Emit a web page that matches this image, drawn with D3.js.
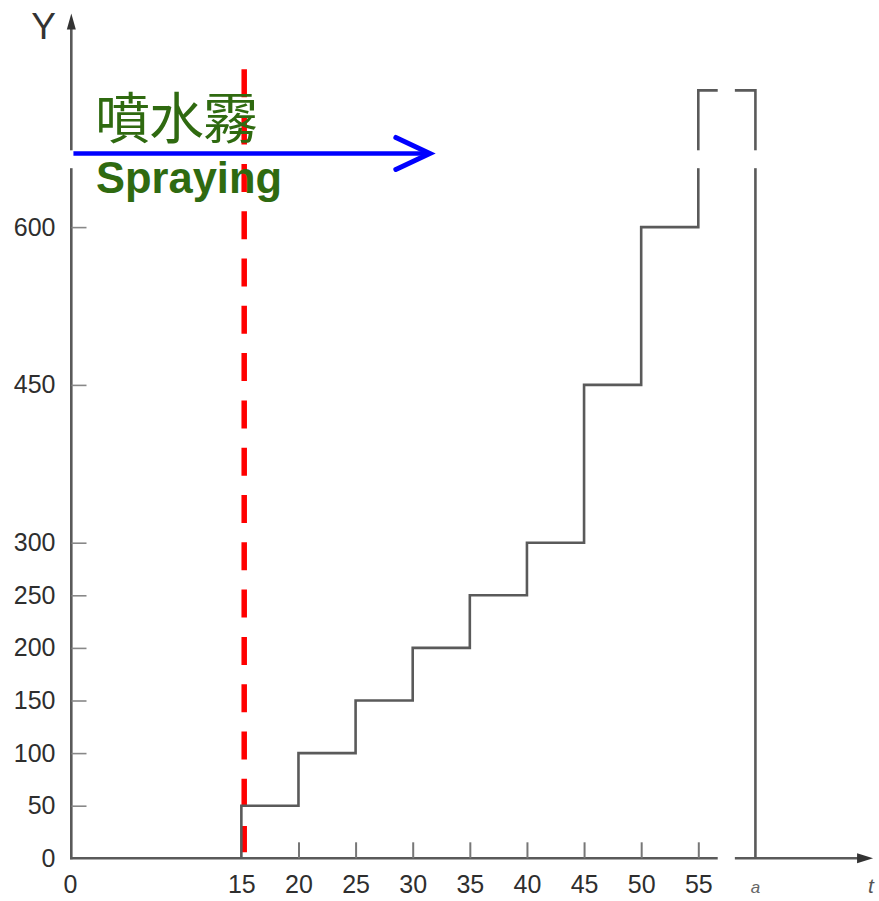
<!DOCTYPE html>
<html>
<head>
<meta charset="utf-8">
<script src="https://cdn.jsdelivr.net/npm/d3@7"></script>
<style>
  html, body { margin: 0; padding: 0; background: #fff; }
  svg { display: block; }
</style>
</head>
<body>
<script>
// ---- data ----
const stepT = [15, 15, 20, 25, 30, 35, 40, 45, 50, 55, 60];
const stepY = [0, 50, 100, 150, 200, 250, 300, 450, 600, 730, 0];
const xTickValues = [0, 15, 20, 25, 30, 35, 40, 45, 50, 55];
const xTickMarks = [20, 25, 30, 35, 40, 45, 50, 55];
const yTickValues = [0, 50, 100, 150, 200, 250, 300, 450, 600];
const aLabel = { t: 60, text: "a" };
const axisTop = 803;      // value at the tip of the Y arrow
const axisRight = 70.3;   // t at the tip of the t arrow
const yBreak = [656, 673];
const xBreak = [56.7, 58.2];
const sprayStart = 15.25;
const sprayLineTop = 750;
const sprayArrow = { t0: 0.3, t1: 31.5, y: 670 };
const sprayTextZh = "噴水霧";
const sprayTextEn = "Spraying";

// ---- layout ----
const W = 879, H = 901;
const x = d3.scaleLinear().domain([0, 55]).range([70, 698.3]);
const y = d3.scaleLinear().domain([0, 600]).range([858.3, 227.1]);

const svg = d3.select("body").append("svg").attr("width", W).attr("height", H);
const defs = svg.append("defs");

// break mask
const mask = defs.append("mask").attr("id", "brk").attr("maskUnits", "userSpaceOnUse")
  .attr("x", 0).attr("y", 0).attr("width", W).attr("height", H);
mask.append("rect").attr("x", 0).attr("y", 0).attr("width", W).attr("height", H).attr("fill", "#fff");
mask.append("rect").attr("x", 0).attr("width", W)
  .attr("y", y(yBreak[1])).attr("height", y(yBreak[0]) - y(yBreak[1])).attr("fill", "#000");
mask.append("rect").attr("y", 0).attr("height", H)
  .attr("x", x(xBreak[0])).attr("width", x(xBreak[1]) - x(xBreak[0])).attr("fill", "#000");

const lineCol = "#5a5a5a";
const textCol = "#2e2e2e";

// red dashed spraying line (behind everything)
svg.append("line")
  .attr("x1", x(sprayStart)).attr("x2", x(sprayStart))
  .attr("y1", y(sprayLineTop)).attr("y2", y(0) - 6)
  .attr("stroke", "#ff0000").attr("stroke-width", 5.5)
  .attr("stroke-dasharray", "28,19.3");

const g = svg.append("g").attr("mask", "url(#brk)");

// axes lines
g.append("line").attr("x1", x(0) + 1.3).attr("x2", x(0) + 1.3)
  .attr("y1", y(0) + 1).attr("y2", y(axisTop) + 12)
  .attr("stroke", lineCol).attr("stroke-width", 2.6);
g.append("line").attr("x1", x(0)).attr("x2", x(axisRight) - 12)
  .attr("y1", y(0)).attr("y2", y(0))
  .attr("stroke", lineCol).attr("stroke-width", 2.6);

// arrow heads
const ax0 = x(0) + 1.3, ayT = y(axisTop);
g.append("path").attr("d", `M${ax0},${ayT} L${ax0 - 4.5},${ayT + 16} L${ax0 + 4.5},${ayT + 16} Z`)
  .attr("fill", "#333");
const xr = x(axisRight), y0 = y(0);
g.append("path").attr("d", `M${xr},${y0} L${xr - 16},${y0 - 5} L${xr - 16},${y0 + 5} Z`)
  .attr("fill", "#333");

// step line
const pts = stepT.map((t, i) => [t, stepY[i]]);
g.append("path")
  .datum(pts)
  .attr("d", d3.line().x(d => x(d[0])).y(d => y(d[1])).curve(d3.curveStepAfter))
  .attr("fill", "none").attr("stroke", lineCol).attr("stroke-width", 2.6)
  .attr("stroke-linejoin", "miter");

// x axis ticks + labels
const xAxis = d3.axisBottom(x).tickValues(xTickValues).tickSizeInner(-16).tickSizeOuter(0).tickPadding(17)
  .tickFormat(d3.format("d"));
const xg = svg.append("g").attr("transform", `translate(0,${y(0)})`).call(xAxis);
xg.select(".domain").remove();
xg.selectAll(".tick line")
  .attr("stroke", "#777").attr("stroke-width", 2)
  .attr("display", d => xTickMarks.includes(d) ? null : "none");
xg.selectAll(".tick text").attr("font-family", "Liberation Sans, Arial, sans-serif")
  .attr("font-size", 25).attr("fill", textCol);

// "a" label
svg.append("text").attr("x", x(aLabel.t)).attr("y", 893).attr("text-anchor", "middle")
  .attr("font-family", "Liberation Sans, Arial, sans-serif").attr("font-style", "italic")
  .attr("font-size", 17).attr("fill", "#666").text(aLabel.text);

// y axis ticks + labels
const yAxis = d3.axisLeft(y).tickValues(yTickValues).tickSizeInner(-15).tickSizeOuter(0).tickPadding(16)
  .tickFormat(d3.format("d"));
const yg = svg.append("g").attr("transform", `translate(${x(0) + 1.5},0)`).call(yAxis);
yg.select(".domain").remove();
yg.selectAll(".tick line")
  .attr("stroke", "#888").attr("stroke-width", 1.6)
  .attr("display", d => d === 0 ? "none" : null);
yg.selectAll(".tick text").attr("font-family", "Liberation Sans, Arial, sans-serif")
  .attr("font-size", 25).attr("fill", textCol);

// axis titles
svg.append("text").attr("x", 43.5).attr("y", 39).attr("text-anchor", "middle")
  .attr("font-family", "Liberation Sans, Arial, sans-serif").attr("font-size", 37)
  .attr("fill", "#333").text("Y");
svg.append("text").attr("x", 871).attr("y", 893).attr("text-anchor", "middle")
  .attr("font-family", "Liberation Sans, Arial, sans-serif").attr("font-style", "italic")
  .attr("font-size", 21).attr("fill", "#555").text("t");

// spraying annotation text
const green = "#2f6a10";
svg.append("text").attr("x", 95).attr("y", 138)
  .attr("font-family", "'Noto Sans CJK TC', 'Noto Sans CJK SC', sans-serif")
  .attr("font-size", 55).attr("font-weight", 400).attr("fill", green)
  .attr("textLength", 163).text(sprayTextZh);
svg.append("text").attr("x", 96).attr("y", 193)
  .attr("font-family", "Liberation Sans, Arial, sans-serif")
  .attr("font-size", 45).attr("font-weight", "bold").attr("fill", green)
  .attr("textLength", 186).attr("lengthAdjust", "spacingAndGlyphs").text(sprayTextEn);

// blue arrow
const by = y(sprayArrow.y);
const bx0 = x(sprayArrow.t0), bx1 = x(sprayArrow.t1);
svg.append("line").attr("x1", bx0).attr("x2", bx1 - 2).attr("y1", by).attr("y2", by)
  .attr("stroke", "#0000ff").attr("stroke-width", 4.5);
svg.append("path").attr("d", `M${bx1 - 34},${by - 16} L${bx1},${by} L${bx1 - 34},${by + 16}`)
  .attr("fill", "none").attr("stroke", "#0000ff").attr("stroke-width", 5)
  .attr("stroke-linecap", "round").attr("stroke-linejoin", "miter");
</script>
</body>
</html>
